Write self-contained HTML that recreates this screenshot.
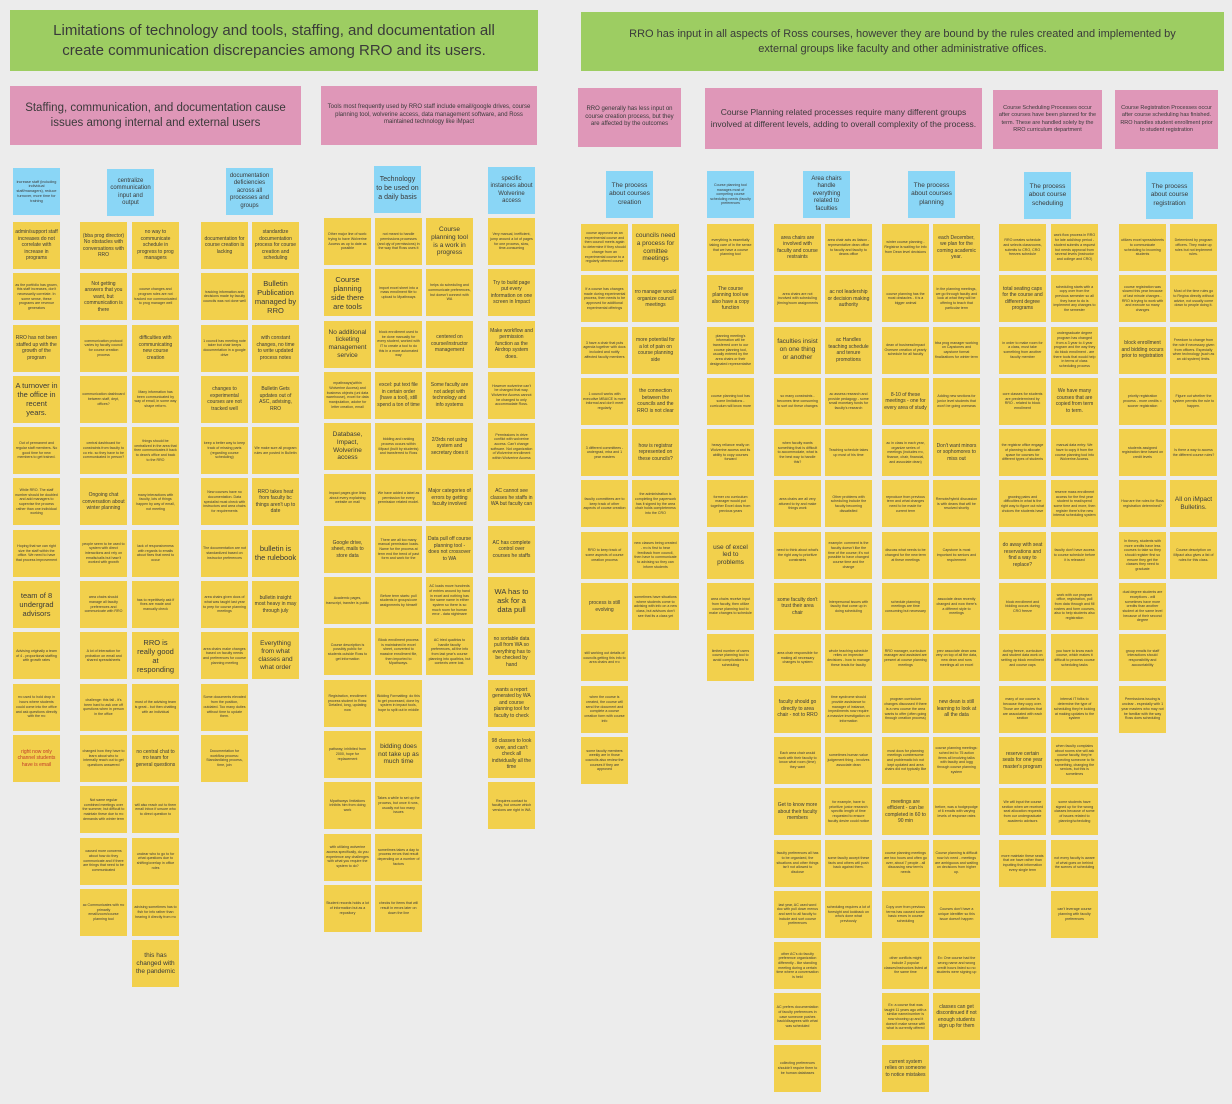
<!DOCTYPE html>
<html><head><meta charset="utf-8"><style>
*{box-sizing:border-box;margin:0;padding:0}
body{width:1232px;height:1104px;background:#ececec;position:relative;overflow:hidden;font-family:"Liberation Sans",sans-serif;color:#3a3a3a}
.g{position:absolute;background:#9dcd62;display:flex;align-items:center;justify-content:center;text-align:center;line-height:1.3}
.p{position:absolute;background:#df97b8;display:flex;align-items:center;justify-content:center;text-align:center;line-height:1.3;padding:4px}
.b{position:absolute;width:47px;height:47px;background:#8ad6f6;display:flex;align-items:center;justify-content:center;text-align:center;font-size:6px;line-height:1.25;padding:2px}
.c{position:absolute;display:flex;flex-direction:column;gap:4.3px;width:47px}
.c div{width:47px;height:47px;background:#f2d04c;display:flex;align-items:center;justify-content:center;text-align:center;font-size:5px;line-height:1.3;padding:2px;overflow:hidden}
.c .l{font-size:7.5px;line-height:1.2}
.c .s{font-size:3.6px}
</style></head><body>
<div class="g" style="left:10px;top:10px;width:528px;height:61px;font-size:15px">Limitations of technology and tools, staffing, and documentation all<br>create communication discrepancies among RRO and its users.</div>
<div class="g" style="left:581px;top:12px;width:643px;height:59px;font-size:11px">RRO has input in all aspects of Ross courses, however they are bound by the rules created and implemented by<br>external groups like faculty and other administrative offices.</div>

<div class="p" style="left:10px;top:86px;width:291px;height:59px;font-size:11.5px">Staffing, communication, and documentation cause issues among internal and external users</div>
<div class="p" style="left:321px;top:86px;width:216px;height:59px;font-size:6px">Tools most frequently used by RRO staff include email/google drives, course planning tool, wolverine access, data management software, and Ross maintained technology like iMpact</div>
<div class="p" style="left:578px;top:88px;width:103px;height:59px;font-size:6px">RRO generally has less input on course creation process, but they are affected by the outcomes</div>
<div class="p" style="left:705px;top:88px;width:277px;height:61px;font-size:8.5px">Course Planning related processes require many different groups involved at different levels, adding to overall complexity of the process.</div>
<div class="p" style="left:993px;top:90px;width:109px;height:59px;font-size:5.5px">Course Scheduling Processes occur after courses have been planned for the term. These are handled solely by the RRO curriculum department</div>
<div class="p" style="left:1115px;top:90px;width:103px;height:59px;font-size:5.5px">Course Registration Processes occur after course scheduling has finished. RRO handles student enrollment prior to student registration</div>

<div class="b" style="left:13px;top:168px;font-size:3.8px">increase staff (including individual staff/managers), reduce turnover, more time for training</div>
<div class="b" style="left:107px;top:169px">centralize communication input and output</div>
<div class="b" style="left:226px;top:168px">documentation deficiencies across all processes and groups</div>
<div class="b" style="left:374px;top:166px;font-size:7px">Technology to be used on a daily basis</div>
<div class="b" style="left:488px;top:167px">specific instances about Wolverine access</div>
<div class="b" style="left:606px;top:171px;font-size:6.5px">The process about courses creation</div>
<div class="b" style="left:707px;top:171px;font-size:3.6px">Course planning tool manages most of competing course scheduling needs (faculty preferences</div>
<div class="b" style="left:803px;top:171px">Area chairs handle everything related to faculties</div>
<div class="b" style="left:908px;top:171px;font-size:6.5px">The process about courses planning</div>
<div class="b" style="left:1024px;top:172px;font-size:6.5px">The process about course scheduling</div>
<div class="b" style="left:1146px;top:172px;font-size:6.5px">The process about course registration</div>

<div class="c" style="left:13px;top:222px">
<div>admin/support staff increases do not correlate with increase in programs</div>
<div class="s">as the portfolio has grown, this staff increases, don't necessarily correlate. In some sense, these programs are revenue generators</div>
<div>RRO has not been staffed up with the growth of the program</div>
<div class="l">A turnover in the office in recent years.</div>
<div class="s">Out of permanent and regular staff members. No good time for new members to get trained.</div>
<div class="s">While RRO. The staff number should be doubled and add managers to supervise the process rather than one individual working</div>
<div class="s">Hoping that we can right size the staff within the office. We need to have that process improvement</div>
<div class="l">team of 8 undergrad advisors</div>
<div class="s">Advising originally a team of 4 - proportional staffing with growth rates</div>
<div class="s">rro used to hold drop in hours where students could come into the office and ask questions directly with the rro</div>
<div style="color:#c0392b">right now only channel students have is email</div>
</div>
<div class="c" style="left:80px;top:222px">
<div>(bba prog director) No obstacles with conversations with RRO</div>
<div>Not getting answers that you want, but communication is there</div>
<div class="s">communication protocol varies by faculty council for course creation process</div>
<div class="s">communication dashboard between staff, dept, offices?</div>
<div class="s">central dashboard for constraints from faculty to co etc. so they have to be communicated in person?</div>
<div>Ongoing chat conversation about winter planning</div>
<div class="s">people seem to be used to system with direct interactions and rely on emails/calls but hasn't worked with growth</div>
<div class="s">area chairs should manage all faculty preferences and communicate with RRO</div>
<div class="s">A lot of interaction for probation on email and shared spreadsheets</div>
<div class="s">challenge: this fall - it's been hard to ask one off questions when in person in the office</div>
<div class="s">changed how they have to learn about who to internally reach out to get questions answered</div>
<div class="s">Not same regular combined meetings over the summer, but difficult to maintain these due to rro demands with winter term</div>
<div class="s">caused more concerns about how do they communicate and if there are things that need to be communicated</div>
<div class="s">ac Communicates with rro primarily email/zoom/course planning tool</div>
</div>
<div class="c" style="left:132px;top:222px">
<div>no way to communicate schedule in progress to prog managers</div>
<div class="s">course changes and program rules are not tracked nor communicated to prog manager well</div>
<div>difficulties with communicating new course creation</div>
<div class="s">Many information has been communicated by way of email, in some way shape reform.</div>
<div class="s">things should be centralized in the area that then communicates it back to dean's office and back to the RRO</div>
<div class="s">many interactions with faculty, lots of things happen by way of email, not meeting</div>
<div class="s">lack of responsiveness with regards to emails about fixes that need to occur</div>
<div class="s">has to repetitively ask if fixes are made and manually check</div>
<div class="l">RRO is really good at responding</div>
<div class="s">most of the advising team is great - but then chatting with an individual</div>
<div>no central chat to rro team for general questions</div>
<div class="s">will also reach out to them email inbox if unsure who to direct question to</div>
<div class="s">unclear who to go to for what questions due to shifting/overlap in office roles</div>
<div class="s">advising sometimes has to fish for info rather than hearing it directly from rro</div>
<div class="l" style="font-size:6.5px">this has changed with the pandemic</div>
</div>
<div class="c" style="left:201px;top:222px">
<div>documentation for course creation is lacking</div>
<div class="s">tracking information and decisions made by faculty councils was not done well</div>
<div class="s">1 council has meeting note taker but chair keeps documentation in a google drive</div>
<div>changes to experimental courses are not tracked well</div>
<div class="s">keep a better way to keep track of missing parts (regarding course scheduling)</div>
<div class="s">New courses have no documentation. Data specialist must check with instructors and area chairs for requirements</div>
<div class="s">The documentation are not standardized based on instructor preferences</div>
<div class="s">area chairs given docs of what was taught last year to prep for course planning meetings</div>
<div class="s">area chairs make changes based on faculty needs and preferences for course planning meeting</div>
<div class="s">Some documents elevated from the position, outdated. Too many duties without time to update them.</div>
<div class="s">Documentation for workflow process: Standardizing process, time, join</div>
</div>
<div class="c" style="left:252px;top:222px">
<div>standardize documentation process for course creation and scheduling</div>
<div class="l">Bulletin Publication managed by RRO</div>
<div>with constant changes, no time to write updated process notes</div>
<div>Bulletin Gets updates out of ASC, advising, RRO</div>
<div class="s">We make sure all program rules are posted in Bulletin</div>
<div>RRO takes heat from faculty bc things aren't up to date</div>
<div class="l">bulletin is the rulebook</div>
<div>bulletin insight most heavy in may through july</div>
<div class="l" style="font-size:6.5px">Everything from what classes and what order</div>
</div>
<div class="c" style="left:324px;top:218px">
<div class="s">Other major line of work: trying to have Wolverine Access as up to date as possible</div>
<div class="l">Course planning side there are tools</div>
<div class="l" style="font-size:6.5px">No additional ticketing management service</div>
<div class="s">mpathways(within Wolverine Access) and business objects (uni data warehouse), excel for data manipulation, adobe for letter creation, email</div>
<div class="l" style="font-size:6.5px">Database, Impact, Wolverine access</div>
<div class="s">Impact pages give links about every explaining website on mail</div>
<div>Google drive, sheet, mails to store data</div>
<div class="s">Academic pages, transcript, transfer is public</div>
<div class="s">Course description is possibly public for students outside Ross to get information</div>
<div class="s">Registration, enrollment process student in Ross: Detailed, long, updating now</div>
<div class="s">pathway; inhibited from 2000, hope for replacement</div>
<div class="s">Mpathways limitations inhibits him from doing work</div>
<div class="s">with utilizing wolverine access specifically, do you experience any challenges with what you require the system to do?</div>
<div class="s">Student records holds a lot of information but as a repository</div>
</div>
<div class="c" style="left:375px;top:218px">
<div class="s">not meant to handle permissions processes (and qty of permissions) in the way that Ross uses it</div>
<div class="s">import excel sheet into a mass enrollment file to upload to Mpathways</div>
<div class="s">block enrollment used to be done manually for every student, worked with IT to create a tool to do this in a more automated way</div>
<div>excel: put text file in certain order (have a tool), still spend a ton of time</div>
<div class="s">bidding and ranking process occurs within iMpact (built by students) and transferred to Ross</div>
<div class="s">We have added a label as permission for every permission related model.</div>
<div class="s">There are all too many manual permission loads. Name for the process at term end the trend of past form and work for the</div>
<div class="s">Before term starts: pull students in groups/core assignments by himself</div>
<div class="s">Block enrollment process is maintained in excel sheet, converted to massive enrollment file, then imported to Mpathways.</div>
<div class="s">Bidding Formatting: do this to get processed, done by system in impact tools, hope to split out in middle</div>
<div class="l" style="font-size:6.5px">bidding does not take up as much time</div>
<div class="s">Takes a while to set up the process, but once it runs, usually not too many issues</div>
<div class="s">sometimes takes a day to process errors that result depending on a number of factors</div>
<div class="s">checks for items that will result in errors later on down the line</div>
</div>
<div class="c" style="left:426px;top:218px">
<div class="l" style="font-size:6.5px">Course planning tool is a work in progress</div>
<div class="s">helps do scheduling and communicate preferences, but doesn't connect with WA</div>
<div>centered on course/instructor management</div>
<div>Some faculty are not adept with technology and info systems</div>
<div>2/3rds not using system and secretary does it</div>
<div>Major categories of errors by getting faculty involved</div>
<div>Data pull off course planning tool - does not crossover to WA</div>
<div class="s">AC loads move hundreds of entries around by hand in excel and nothing has the same name in either system so there is so much room for human error - data nightmare</div>
<div class="s">AC tried qualtrics to handle faculty preferences, all the info from last year's course planning into qualtrics, but contexts were lost.</div>
</div>
<div class="c" style="left:488px;top:218px">
<div class="s">Very manual, inefficient, jump around a lot of pages for one process, slow, time-consuming</div>
<div>Try to build page put every information on one screen in Impact</div>
<div>Make workflow and permission function as the Airdrop system does.</div>
<div class="s">However wolverine can't be changed that way. Wolverine Access cannot be changed to only accommodate Ross.</div>
<div class="s">Permissions in drive conflict with wolverine access. Can't change software. Not organization of Wolverine enrollment within Wolverine Access</div>
<div>AC cannot see classes he staffs in WA but faculty can</div>
<div>AC has complete control over courses he staffs</div>
<div class="l">WA has to ask for a data pull</div>
<div>no sortable data pull from WA so everything has to be checked by hand</div>
<div>wants a report generated by WA and course planning tool for faculty to check</div>
<div>98 classes to look over, and can't check all individually all the time</div>
<div class="s">Requires contact to faculty, but unsure which versions are right in WA</div>
</div>

<div class="c" style="left:581px;top:224px">
<div class="s">course approved as an experimental course and then council meets again to determine if they should change from an experimental course to a regularly offered course</div>
<div class="s">If a course has changes made during experimental process, then needs to be approved for additional experimental offerings</div>
<div class="s">3 have a chair that puts agenda together with docs included and notify affected faculty members</div>
<div class="s">1 council works with executive MBA/CE is more informal and don't meet regularly</div>
<div class="s">3 different committees - undergrad, mba and 1 year masters</div>
<div class="s">faculty committees are to keep track of other aspects of course creation</div>
<div class="s">RRO to keep track of some aspects of course creation process</div>
<div>process is still evolving</div>
<div class="s">still working out details of councils getting this info to area chairs and rro</div>
<div class="s">when the course is created, the course will send the document and complete a course creation form with course info</div>
<div class="s">some faculty members weekly are in those councils also review the courses if they are approved</div>
</div>
<div class="c" style="left:632px;top:224px">
<div class="l" style="font-size:6.5px">councils need a process for comittee meetings</div>
<div>rro manager would organize council meetings</div>
<div>more potential for a lot of pain on course planning side</div>
<div>the connection between the councils and the RRO is not clear</div>
<div>how is registrar represented on these councils?</div>
<div class="s">the administration is completing the paperwork has it signed by the area chair holds completeness into the CRO</div>
<div class="s">new classes being created - rro is first to hear feedback from council, then have to communicate to advising so they can inform students</div>
<div class="s">sometimes have situations where students come to advising with info on a new class, but advisors don't see that its a class yet</div>
</div>
<div class="c" style="left:707px;top:224px">
<div class="s">everything is essentially taking care of in the sense that we have a course planning tool</div>
<div>The course planning tool we also have a copy function</div>
<div class="s">planning meeting's information will be transferred over to our course planning tool, usually entered by the area chairs or their designated representative</div>
<div class="s">course planning tool has some limitations - curriculum will know more</div>
<div class="s">heavy reliance really on Wolverine access and its ability to copy courses forward</div>
<div class="s">former cro curriculum manager would put together Excel docs from previous years</div>
<div class="l" style="font-size:6.5px">use of excel led to problems</div>
<div class="s">area chairs receive input from faculty, then utilize course planning tool to make changes to schedule</div>
<div class="s">limited number of users course planning tool to avoid complications to scheduling</div>
</div>
<div class="c" style="left:774px;top:224px">
<div>area chairs are involved with faculty and course restraints</div>
<div class="s">area chairs are not involved with scheduling (timing/room assignments</div>
<div class="l" style="font-size:6.5px">faculties insist on one thing or another</div>
<div class="s">so many constraints - becomes time consuming to sort out these changes</div>
<div class="s">when faculty wants something that is difficult to accommodate, what is the best way to handle this?</div>
<div class="s">area chairs are all very attuned to try and make things work</div>
<div class="s">need to think about what's the right way to prioritize constraints</div>
<div>some faculty don't trust their area chair</div>
<div class="s">area chair responsible for making all necessary changes to system</div>
<div>faculty should go directly to area chair - not to RRO</div>
<div class="s">Each area chair would work with their faculty to know what room (time) they want</div>
<div>Get to know more about their faculty members</div>
<div class="s">faculty preferences all has to be organized, the situations and other things isn't not allowed to disclose</div>
<div class="s">last year, AC used word doc with pull down menus and sent to all faculty to include and sort course preferences</div>
<div class="s">other AC's do faculty preference organization differently - like standing meeting during a certain time where a conversation is held</div>
<div class="s">AC prefers documentation of faculty preferences in case someone pushes back/disagrees with what was scheduled</div>
<div class="s">collecting preferences shouldn't require them to be human databases</div>
</div>
<div class="c" style="left:825px;top:224px">
<div class="s">area chair acts as liaison - representative dean office to faculty and faculty to deans office</div>
<div>ac not leadership or decision making authority</div>
<div>ac Handles teaching schedule and tenure promotions</div>
<div class="s">ac assess research and provide pedagogy - some small monetary funds for faculty's research</div>
<div class="s">Teaching schedule takes up most of his time</div>
<div class="s">Other problems with scheduling include the faculty becoming dissatisfied</div>
<div class="s">example: comment is the faculty doesn't like the time of the course; it's not possible to have changed course time and the change</div>
<div class="s">Interpersonal issues with faculty that come up in doing scheduling</div>
<div class="s">whole teaching schedule relies on imprecise decisions - how to manage these leads for faculty</div>
<div class="s">time syndrome should provide assistance to manager of instance, impediments now require a massive investigation on information</div>
<div class="s">sometimes human value judgement thing - involves associate dean</div>
<div class="s">for example, have to prioritize junior research specific length of time requested to ensure faculty desire could notice</div>
<div class="s">some faculty accept these facts and others will push back against them.</div>
<div class="s">scheduling requires a lot of foresight and lookback on who's done what previously</div>
</div>
<div class="c" style="left:882px;top:224px">
<div class="s">winter course planning - Registrar is waiting for info from Dean level decisions</div>
<div class="s">course planning has the most obstacles - it is a bigger animal</div>
<div class="s">dean of business/impact Oversee creation of yearly schedule for all faculty</div>
<div>8-10 of these meetings - one for every area of study</div>
<div class="s">ac in class in each year, organize series of meetings (includes rro, finance, chair, financial, and associate dean)</div>
<div class="s">reproduce from previous term and what changes need to be made for current term</div>
<div class="s">discuss what needs to be changed for the new term at these meetings</div>
<div class="s">schedule planning meetings are time consuming but necessary</div>
<div class="s">RRO manager, curriculum manager and assistant are present at course planning meetings</div>
<div class="s">program curriculum changes discussed if there is a new course the area wants to offer (often going through creation process)</div>
<div class="s">most docs for planning meetings cumbersome and problematic b/c not kept updated and area chairs did not typically like</div>
<div>meetings are efficient - can be completed in 60 to 90 min</div>
<div class="s">course planning meetings are two hours and often go over, about 7 people - all discussing new term's needs</div>
<div class="s">Copy over from previous terms has caused some basic errors in course scheduling</div>
<div class="s">other conflicts might include 2 popular classes/instructors listed at the same time</div>
<div class="s">Ex: a course that was taught 11 years ago with a similar name/number is now showing up and it doesn't make sense with what is currently offered</div>
<div>current system relies on someone to notice mistakes</div>
</div>
<div class="c" style="left:933px;top:224px">
<div>each December, we plan for the coming academic year.</div>
<div class="s">in the planning meetings, we go through faculty and look at what they will be offering to teach that particular term</div>
<div class="s">bba prog manager working on Capstones and capstone format finalizations for winter term</div>
<div class="s">Adding new sections for junior level students that won't be going overseas</div>
<div>Don't want minors or sophomores to miss out</div>
<div class="s">Remote/hybrid discussion is with deans that will be resolved shortly</div>
<div class="s">Capstone is most important bc seniors and requirement</div>
<div class="s">associate dean recently changed and now there's a different style to meetings</div>
<div class="s">prev associate dean was very on top of all the data, new dean and runs meetings all on excel</div>
<div>new dean is still learning to look at all the data</div>
<div class="s">course planning meetings: sched led to 75 action items all involving talks with faculty and logg through course planning system</div>
<div class="s">before, was a hodgepodge of 6 emails with varying levels of response rates</div>
<div class="s">Course planning is difficult now b/c need - meetings are ambiguous and waiting on decisions from higher up.</div>
<div class="s">Courses don't have a unique identifier so this issue doesn't happen</div>
<div class="s">Ex: One course had the wrong name and wrong credit hours listed so no students were signing up</div>
<div>classes can get discontinued if not enough students sign up for them</div>
</div>
<div class="c" style="left:999px;top:224px">
<div class="s">RRO creates schedule and selects classrooms, submits to CRO, CRO freezes schedule</div>
<div>total seating caps for the course and different degree programs</div>
<div class="s">in order to make room for a class, must take something from another faculty member</div>
<div class="s">core classes for students are predetermined by RRO - related to block enrollment</div>
<div class="s">the registrar office engage of planning to allocate space for courses for different types of students</div>
<div class="s">growing pains and difficulties in what is the right way to figure out what choices the students have</div>
<div>do away with seat reservations and find a way to replace?</div>
<div class="s">block enrollment and bidding occurs during CRO freeze</div>
<div class="s">during freeze, curriculum and student data work on setting up block enrollment and course caps</div>
<div class="s">many of our course is because they copy over. Those are attributes that are associated with each section</div>
<div>reserve certain seats for one year master's program</div>
<div class="s">We will input the course section when we received seat allocation requests from our undergraduate academic advisors</div>
<div class="s">more maintain these seats that we have rather than inputting that information every single term</div>
</div>
<div class="c" style="left:1051px;top:224px">
<div class="s">work flow process in RRO for late add/drop period - student submits a request but needs approval from several levels (instructor and college and CRO)</div>
<div class="s">scheduling starts with a copy over from the previous semester so all they have to do is implement any changes to the semester</div>
<div class="s">undergraduate degree program has changed from a 3 year to 4 year program and the way they do block enrollment - are there tools that would help in terms of class scheduling process</div>
<div>We have many courses that are copied from term to term.</div>
<div class="s">manual data entry: We have to copy it from the course planning tool into Wolverine Access.</div>
<div class="s">reserve mass enrollment access for the first year student to read/spend some time and more, then register there's the new internal scheduling system</div>
<div class="s">faculty don't have access to course schedule before it is released</div>
<div class="s">work with our program office, registration, pull from data through and fill rosters and form courses, also to help students also registration</div>
<div class="s">you have to know each course, which makes it difficult to process course scheduling tasks</div>
<div class="s">internal IT folks to determine the type of scheduling they're looking at making updates to the system</div>
<div class="s">when faculty complains about rooms she will ask course faculty, they're expecting someone to fix something, changing the seniors, but this is sometimes</div>
<div class="s">some students have signed up for the wrong classes because of some of issues related to planning/scheduling</div>
<div class="s">not every faculty is aware of what goes on behind the scenes of scheduling</div>
<div class="s">can't leverage course planning with faculty preferences</div>
</div>
<div class="c" style="left:1119px;top:224px">
<div class="s">utilizes excel spreadsheets to communicate scheduling to incoming students</div>
<div class="s">course registration was slowed this year because of last minute changes - RRO is trying to work with and execute so many changes</div>
<div>block enrollment and bidding occurs prior to registration</div>
<div class="s">priority registration process - more credits = sooner registration</div>
<div class="s">students assigned registration time based on credit levels</div>
<div class="s">How are the rules for Ross registration determined?</div>
<div class="s">In theory, students with more credits have less courses to take so they should register first so ensure they get the classes they need to graduate</div>
<div class="s">dual degree students are exceptions - will sometimes have more credits than another student at the same level because of their second degree</div>
<div class="s">group emails for staff interactions should responsibility and accountability</div>
<div class="s">Permissions issuing is unclear - especially with 1 year masters who may not be familiar with the way Ross does scheduling</div>
</div>
<div class="c" style="left:1170px;top:224px">
<div class="s">Determined by program officers. They make up rules but not implement rules.</div>
<div class="s">Most of the time rules go to Regina directly without advice, not usually come down to people doing it.</div>
<div class="s">Freedom to change from the rule if necessary given from officers. Especially when technology (such as an old system) limits.</div>
<div class="s">Figure out whether the system permits the rule to happen.</div>
<div class="s">Is there a way to access the different course rules?</div>
<div class="l" style="font-size:6.5px">All on iMpact Bulletins.</div>
<div class="s">Course description on iMpact also gives a list of rules for this class.</div>
</div>
</body></html>
